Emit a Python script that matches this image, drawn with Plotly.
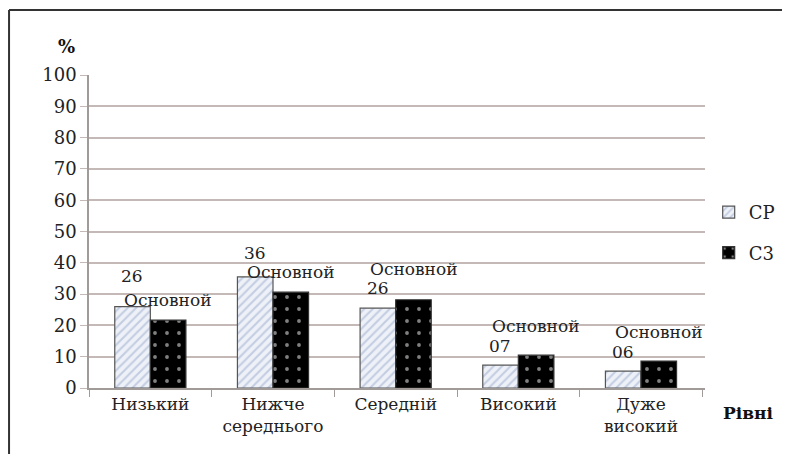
import plotly.graph_objects as go

categories = ["Низький", "Нижче<br>середнього", "Середній", "Високий", "Дуже<br>високий"]
cp_values = [26, 35.5, 25.5, 7.3, 5.4]
cz_values = [21.7, 30.6, 28.2, 10.5, 8.6]
cp_labels = ["26", "36", "26", "07", "06"]
cz_label = "Основной"
y_ticks = [0, 10, 20, 30, 40, 50, 60, 70, 80, 90, 100]

cp_label_shift = [19, 12, 8, 7, 7]
cz_label_shift = [8, 8, 19, 17, 17]

FONT = "DejaVu Serif"

fig = go.Figure()
fig.add_trace(go.Bar(
    x=categories, y=cp_values, name="CP", legendgroup="a",
    marker=dict(color="#a8b8d8", line=dict(color="#555555", width=1.2),
                pattern=dict(shape="/", fgcolor="#98aacc", bgcolor="#eef1f7", size=6, solidity=0.35)),
))
fig.add_trace(go.Bar(
    x=categories, y=cz_values, name="C3", legendgroup="b",
    marker=dict(color="black", line=dict(color="#333333", width=1.2),
                pattern=dict(shape=".", fgcolor="white", bgcolor="black", size=12, solidity=0.08)),
))

for c, v, t, s in zip(categories, cp_values, cp_labels, cp_label_shift):
    fig.add_annotation(x=c, y=v, text=t, showarrow=False, xshift=-18, yshift=s,
                       yanchor="bottom", font=dict(family=FONT, size=17, color="#222"))
for c, v, s in zip(categories, cz_values, cz_label_shift):
    fig.add_annotation(x=c, y=v, text=cz_label, showarrow=False, xshift=18, yshift=s,
                       yanchor="bottom", font=dict(family=FONT, size=17, color="#222"))

fig.add_annotation(xref="paper", yref="paper", x=-0.036, y=1.09, text="<b>%</b>",
                   xanchor="center", yanchor="middle",
                   showarrow=False, font=dict(family=FONT, size=18, color="#111"))
fig.add_annotation(xref="paper", yref="paper", x=1.07, y=-0.08, text="<b>Рівні</b>",
                   xanchor="center", yanchor="middle",
                   showarrow=False, font=dict(family=FONT, size=17, color="#111"))

# frame
fig.add_shape(type="line", xref="paper", yref="paper", x0=-0.1298, x1=-0.1298, y0=-0.3, y1=1.2077,
              line=dict(color="#333", width=2))
fig.add_shape(type="line", xref="paper", yref="paper", x0=-0.1298, x1=1.2, y0=1.2077, y1=1.2077,
              line=dict(color="#333", width=2))

fig.update_layout(
    width=782, height=446,
    margin=dict(l=81, r=85, t=67, b=66, autoexpand=False),
    paper_bgcolor="white", plot_bgcolor="white",
    barmode="group", bargap=0.42, bargroupgap=0,
    font=dict(family=FONT, size=18, color="#222"),
    legend=dict(x=1.006, y=0.62, xanchor="left", yanchor="top",
                font=dict(family=FONT, size=18), tracegroupgap=14,
                bgcolor="rgba(0,0,0,0)"),
    xaxis=dict(showline=True, linecolor="#a09a98", linewidth=1.5, ticks="outside",
               tickson="boundaries", ticklen=7, tickcolor="#a09a98",
               tickfont=dict(family=FONT, size=17)),
    yaxis=dict(range=[0, 100], tickvals=y_ticks, showgrid=True, gridcolor="#c4b9b6",
               gridwidth=1.5, showline=True, linecolor="#a09a98", linewidth=1.5,
               ticks="outside", ticklen=7, tickcolor="#c4b9b6",
               tickfont=dict(family=FONT, size=18), zeroline=False),
)

fig.write_html("out.html")
